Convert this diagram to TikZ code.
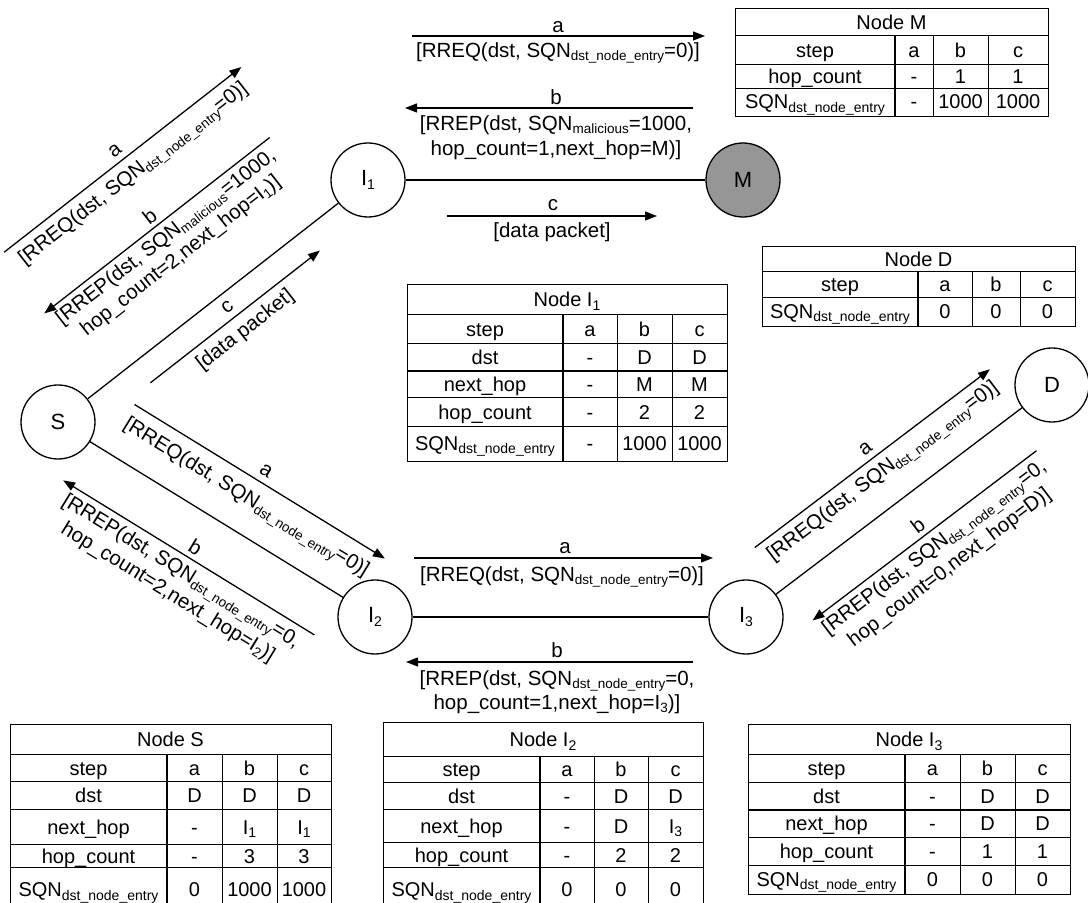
\documentclass[tikz,border=0pt]{standalone}
\usepackage{fontspec}
\setmainfont{Liberation Sans}
\usetikzlibrary{arrows.meta,calc}
\definecolor{mgray}{RGB}{150,150,150}
\newcommand{\lblfont}{\fontsize{20.5}{23}\selectfont}
\newcommand{\tabfont}{\fontsize{20}{22}\selectfont}
\newcommand{\nodefont}{\fontsize{22}{24}\selectfont}
\newcommand{\subl}[1]{\raisebox{-3.5pt}{\fontsize{13.5}{14}\selectfont #1}}
\newcommand{\subt}[1]{\raisebox{-3.5pt}{\fontsize{14}{14}\selectfont #1}}
\newcommand{\subn}[1]{\raisebox{-4pt}{\fontsize{14}{14}\selectfont #1}}
\newcommand{\trowfour}[6]{%
  \node[cell] (#1a) at (\colA,#2) {#3};
  \node[cell] (#1b) at (\colB,#2) {#4};
  \node[cell] (#1c) at (\colC,#2) {#5};
  \node[cell] (#1d) at (\colD,#2) {#6};}
\begin{document}
\begin{tikzpicture}[x=1pt,y=1pt,
  circ/.style={circle, draw, line width=1.3pt, minimum size=74pt, inner sep=0pt, font=\nodefont},
  edge/.style={line width=1.3pt},
  arr/.style={line width=1.3pt, -{Triangle[length=12pt,width=9pt]}},
  lbl/.style={inner sep=0pt, font=\lblfont},
  rlbl/.style={lbl, transform shape},
  tline/.style={line width=1pt},
  tthick/.style={line width=2.2pt},
  cell/.style={inner sep=0pt, anchor=base, font=\tabfont}]
\useasboundingbox (0,0) rectangle (1088,903);
\clip (0,0) rectangle (1088,903);

% nodes
\node[circ] (S) at (58,481) {S};
\node[circ] (I1) at (368,723) {I\subn{1}};
\node[circ, fill=mgray] (M) at (743,723) {M};
\node[circ] (D) at (1052,518) {D};
\node[circ] (I2) at (375,286) {I\subn{2}};
\node[circ] (I3) at (746,286) {I\subn{3}};

\draw[edge] (S) -- (I1);
\draw[edge] (S) -- (I2);
\draw[edge] (I1) -- (M);
\draw[edge] (I2) -- (I3);
\draw[edge] (I3) -- (D);

% top I1 - M
\coordinate (ta1) at (412,867); \coordinate (ta2) at (705,867);
\draw[arr] (ta1) -- (ta2);
\node[lbl] (taL) at (558,876) {a};
\node[lbl] (taT) at (558,850) {[RREQ(dst, SQN\subl{dst\_node\_entry}=0)]};
\coordinate (tb1) at (693,795); \coordinate (tb2) at (405,795);
\draw[arr] (tb1) -- (tb2);
\node[lbl] (tbL) at (556,806) {b};
\node[lbl] (tbT1) at (556,778) {[RREP(dst, SQN\subl{malicious}=1000,};
\node[lbl] (tbT2) at (556,753) {hop\_count=1,next\_hop=M)]};
\coordinate (tc1) at (447,687); \coordinate (tc2) at (657,687);
\draw[arr] (tc1) -- (tc2);
\node[lbl] (tcL) at (553,698) {c};
\node[lbl] (tcT) at (552,671) {[data packet]};

% bottom I2 - I3
\coordinate (ba1) at (414,345); \coordinate (ba2) at (713,345);
\draw[arr] (ba1) -- (ba2);
\node[lbl] (baL) at (565,355) {a};
\node[lbl] (baT) at (562,326) {[RREQ(dst, SQN\subl{dst\_node\_entry}=0)]};
\coordinate (bb1) at (693,241); \coordinate (bb2) at (406,241);
\draw[arr] (bb1) -- (bb2);
\node[lbl] (bbL) at (557,253) {b};
\node[lbl] (bbT1) at (557,222) {[RREP(dst, SQN\subl{dst\_node\_entry}=0,};
\node[lbl] (bbT2) at (557,199) {hop\_count=1,next\_hop=I\subl{3})]};

% S - I1
\begin{scope}[shift={(S)}, rotate=37.98]
\coordinate (sia1) at (62,167); \coordinate (sia2) at (363,167);
\draw[arr] (sia1) -- (sia2);
\node[rlbl] (siaL) at (212,179) {a};
\node[rlbl] (siaT) at (212,148) {[RREQ(dst, SQN\subl{dst\_node\_entry}=0)]};
\coordinate (sib1) at (342,94); \coordinate (sib2) at (56,94);
\draw[arr] (sib1) -- (sib2);
\node[rlbl] (sibL) at (199,106) {b};
\node[rlbl] (sibT1) at (199,79) {[RREP(dst, SQN\subl{malicious}=1000,};
\node[rlbl] (sibT2) at (199,55) {hop\_count=2,next\_hop=I\subl{1})]};
\coordinate (sic1) at (97,-26); \coordinate (sic2) at (312,-26);
\draw[arr] (sic1) -- (sic2);
\node[rlbl] (sicL) at (204,-14) {c};
\node[rlbl] (sicT) at (204,-43) {[data packet]};
\end{scope}

% S - I2
\begin{scope}[shift={(S)}, rotate=-31.6]
\coordinate (s2a1) at (56,55); \coordinate (s2a2) at (350,55);
\draw[arr] (s2a1) -- (s2a2);
\node[rlbl] (s2aL) at (203,67) {a};
\node[rlbl] (s2aT) at (200,33) {[RREQ(dst, SQN\subl{dst\_node\_entry}=0)]};
\coordinate (s2b1) at (330,-47); \coordinate (s2b2) at (35,-47);
\draw[arr] (s2b1) -- (s2b2);
\node[rlbl] (s2bL) at (183,-35) {b};
\node[rlbl] (s2bT1) at (183,-64) {[RREP(dst, SQN\subl{dst\_node\_entry}=0,};
\node[rlbl] (s2bT2) at (183,-88) {hop\_count=2,next\_hop=I\subl{2})]};
\end{scope}

% I3 - D
\begin{scope}[shift={(I3)}, rotate=37.17]
\coordinate (dda1) at (49,50); \coordinate (dda2) at (344,50);
\draw[arr] (dda1) -- (dda2);
\node[rlbl] (ddaL) at (197,62) {a};
\node[rlbl] (ddaT) at (197,32) {[RREQ(dst, SQN\subl{dst\_node\_entry}=0)]};
\coordinate (ddb1) at (332,-43); \coordinate (ddb2) at (51,-43);
\draw[arr] (ddb1) -- (ddb2);
\node[rlbl] (ddbL) at (192,-31) {b};
\node[rlbl] (ddbT1) at (192,-60) {[RREP(dst, SQN\subl{dst\_node\_entry}=0,};
\node[rlbl] (ddbT2) at (192,-84) {hop\_count=0,next\_hop=D)]};
\end{scope}

% Table M
\draw[tline] (735,894) rectangle (1048,786);
\draw[tline] (735,867) -- (1048,867) (735,838) -- (1048,838) (735,814) -- (1048,814);
\draw[tthick] (895,867) -- (895,786);
\draw[tline] (933,867) -- (933,786) (988,867) -- (988,786);
\node[cell] (tMh) at (891.5,873.5) {Node M};
\def\colA{815}\def\colB{914}\def\colC{960.5}\def\colD{1018}
\trowfour{tMs}{845.5}{step}{a}{b}{c}
\trowfour{tMh}{819}{hop\_count}{-}{1}{1}
\trowfour{tMq}{794}{SQN\subt{dst\_node\_entry}}{-}{1000}{1000}

% Table D
\draw[tline] (762,656) rectangle (1075,576);
\draw[tline] (762,631) -- (1075,631) (762,605) -- (1075,605);
\draw[tthick] (918,631) -- (918,576);
\draw[tline] (972,631) -- (972,576) (1020,631) -- (1020,576);
\node[cell] (tDh) at (918.5,636.5) {Node D};
\def\colA{840}\def\colB{945}\def\colC{996}\def\colD{1047.5}
\trowfour{tDs}{611}{step}{a}{b}{c}
\trowfour{tDq}{584.5}{SQN\subt{dst\_node\_entry}}{0}{0}{0}

% Table I1
\draw[tline] (407,618) rectangle (727,441);
\draw[tline] (407,588) -- (727,588) (407,559) -- (727,559) (407,505) -- (727,505) (407,476) -- (727,476);
\draw[tthick] (407,532) -- (727,532);
\draw[tthick] (563,588) -- (563,441);
\draw[tline] (617,588) -- (617,441) (672,588) -- (672,441);
\node[cell] (tIah) at (567,596) {Node I\subt{1}};
\def\colA{485}\def\colB{590}\def\colC{644.5}\def\colD{699.5}
\trowfour{tIas}{566.5}{step}{a}{b}{c}
\trowfour{tIad}{538.5}{dst}{-}{D}{D}
\trowfour{tIan}{511.5}{next\_hop}{-}{M}{M}
\trowfour{tIac}{483.5}{hop\_count}{-}{2}{2}
\trowfour{tIaq}{452.5}{SQN\subt{dst\_node\_entry}}{-}{1000}{1000}

% Table S
\draw[tline] (10,178) rectangle (331,-12);
\draw[tline] (10,148) -- (331,148) (10,121) -- (331,121) (10,93) -- (331,93) (10,58) -- (331,58) (10,35) -- (331,35);
\draw[tthick] (167,148) -- (167,-12);
\draw[tline] (222,148) -- (222,-12) (277,148) -- (277,-12);
\node[cell] (tSh) at (170.5,156) {Node S};
\def\colA{88.5}\def\colB{194.5}\def\colC{249.5}\def\colD{304}
\trowfour{tSs}{127.5}{step}{a}{b}{c}
\trowfour{tSd}{100}{dst}{D}{D}{D}
\trowfour{tSn}{68.5}{next\_hop}{-}{I\subt{1}}{I\subt{1}}
\trowfour{tSc}{39.5}{hop\_count}{-}{3}{3}
\trowfour{tSq}{6}{SQN\subt{dst\_node\_entry}}{0}{1000}{1000}

% Table I2
\draw[tline] (383,180) rectangle (703,-12);
\draw[tline] (383,146) -- (703,146) (383,120) -- (703,120) (383,93) -- (703,93) (383,60) -- (703,60) (383,35) -- (703,35);
\draw[tthick] (540,146) -- (540,-12);
\draw[tline] (594,146) -- (594,-12) (648,146) -- (648,-12);
\node[cell] (tIbh) at (543,156) {Node I\subt{2}};
\def\colA{461.5}\def\colB{567}\def\colC{621}\def\colD{675.5}
\trowfour{tIbs}{126}{step}{a}{b}{c}
\trowfour{tIbd}{99.5}{dst}{-}{D}{D}
\trowfour{tIbn}{69.5}{next\_hop}{-}{D}{I\subt{3}}
\trowfour{tIbc}{40.5}{hop\_count}{-}{2}{2}
\trowfour{tIbq}{6}{SQN\subt{dst\_node\_entry}}{0}{0}{0}

% Table I3
\draw[tline] (748,178) rectangle (1070,8);
\draw[tline] (748,148) -- (1070,148) (748,120) -- (1070,120) (748,65) -- (1070,65) (748,37) -- (1070,37);
\draw[tthick] (748,93) -- (1070,93);
\draw[tthick] (905,148) -- (905,8);
\draw[tline] (960,148) -- (960,8) (1015,148) -- (1015,8);
\node[cell] (tIch) at (909,156) {Node I\subt{3}};
\def\colA{826.5}\def\colB{932.5}\def\colC{987.5}\def\colD{1042.5}
\trowfour{tIcs}{127}{step}{a}{b}{c}
\trowfour{tIcd}{99.5}{dst}{-}{D}{D}
\trowfour{tIcn}{72}{next\_hop}{-}{D}{D}
\trowfour{tIcc}{44}{hop\_count}{-}{1}{1}
\trowfour{tIcq}{16.5}{SQN\subt{dst\_node\_entry}}{0}{0}{0}
\end{tikzpicture}
\end{document}
